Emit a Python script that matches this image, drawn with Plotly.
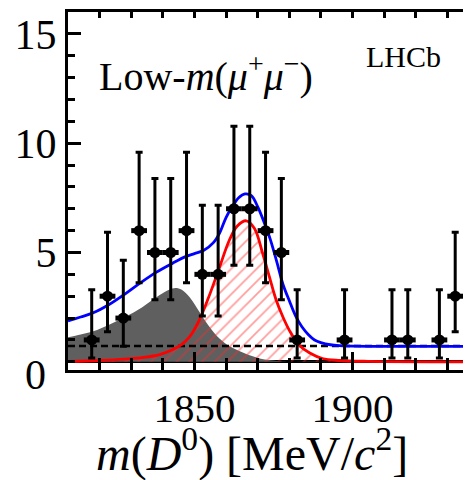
import plotly.graph_objects as go

# ---------------- data ----------------
bin_centers = [1817.5, 1822.5, 1827.5, 1832.5, 1837.5, 1842.5, 1847.5, 1852.5,
               1857.5, 1862.5, 1867.5, 1872.5, 1877.5, 1882.5, 1897.5, 1912.5,
               1917.5, 1927.5, 1932.5, 1937.5]
counts = [1, 3, 2, 6, 5, 5, 6, 4, 4, 7, 7, 6, 5, 1, 1, 1, 1, 1, 3, 2]
err_lo = [0.83, 1.63, 1.29, 2.38, 2.16, 2.16, 2.38, 1.91, 1.91, 2.58, 2.58,
          2.38, 2.16, 0.83, 0.83, 0.83, 0.83, 0.83, 1.63, 1.29]
err_hi = [2.30, 2.92, 2.64, 3.58, 3.38, 3.38, 3.58, 3.16, 3.16, 3.77, 3.77,
          3.58, 3.38, 2.30, 2.30, 2.30, 2.30, 2.30, 2.92, 2.64]
bin_half = [2.5] * len(bin_centers)

total_x = [1810, 1814, 1818, 1823, 1828, 1833, 1838, 1843, 1847, 1850, 1853,
           1856, 1858, 1860, 1862, 1864, 1866, 1868, 1870, 1872, 1874, 1876,
           1878, 1880, 1882, 1884, 1886, 1888, 1890, 1893, 1896, 1900, 1937.5]
total_y = [1.87, 2.05, 2.24, 2.62, 3.10, 3.62, 4.10, 4.50, 4.80, 4.95, 5.10,
           5.45, 5.90, 6.60, 7.10, 7.50, 7.68, 7.60, 7.10, 6.40, 5.60, 4.60,
           3.55, 2.80, 2.10, 1.60, 1.25, 1.00, 0.88, 0.78, 0.74, 0.72, 0.71]

signal_x = [1810, 1820, 1828, 1834, 1839, 1843, 1846, 1848.5, 1851.5, 1854.5,
            1858, 1861, 1863.5, 1866.4, 1869, 1871.5, 1873.7, 1875.8, 1878,
            1880, 1883, 1886.5, 1890.5, 1896, 1905, 1937.5]
signal_y = [0.02, 0.06, 0.12, 0.20, 0.33, 0.55, 0.80, 1.15, 1.90, 2.95, 4.35,
            5.55, 6.20, 6.45, 6.10, 5.00, 3.90, 2.85, 2.05, 1.45, 0.78, 0.40,
            0.15, 0.06, 0.02, 0.00]

peaking_x = [1810, 1814, 1818, 1823, 1828, 1833.5, 1839, 1842, 1844, 1846,
             1848.5, 1851.5, 1854.5, 1858, 1861, 1864, 1867, 1871, 1876, 1882,
             1937.5]
peaking_y = [1.12, 1.25, 1.40, 1.70, 2.05, 2.50, 3.05, 3.30, 3.38, 3.30, 2.95,
             2.30, 1.65, 1.05, 0.72, 0.50, 0.32, 0.14, 0.04, 0.00, 0.00]

comb_x = [1810, 1937.5]
comb_y = [0.72, 0.72]

x_range = [1810, 1937.5]
y_range = [-0.375, 16.0]

FONT = "Liberation Serif, Times New Roman, serif"

fig = go.Figure()

# peaking background (dark grey)
fig.add_trace(go.Scatter(x=peaking_x, y=peaking_y, mode="lines",
                         line=dict(width=0, shape="spline", color="#5f5f5f"),
                         fill="tozeroy", fillcolor="#5f5f5f",
                         showlegend=False, hoverinfo="skip"))
# signal hatched area (transparent background so the grey shows through)
fig.add_trace(go.Scatter(x=signal_x, y=signal_y, mode="lines",
                         line=dict(width=0, shape="spline", color="red"),
                         fill="tozeroy", fillcolor="rgba(255,255,255,0)",
                         fillpattern=dict(shape="/", fgcolor="rgba(255,40,40,0.9)",
                                          size=9, solidity=0.2,
                                          fillmode="overlay"),
                         showlegend=False, hoverinfo="skip"))
# combinatorial (dashed)
fig.add_trace(go.Scatter(x=comb_x, y=comb_y, mode="lines",
                         line=dict(color="black", width=2.5, dash="7px,4px"),
                         showlegend=False, hoverinfo="skip"))
# total fit
fig.add_trace(go.Scatter(x=total_x, y=total_y, mode="lines",
                         line=dict(color="#0000ff", width=2.8, shape="spline"),
                         showlegend=False, hoverinfo="skip"))
# signal line
fig.add_trace(go.Scatter(x=signal_x, y=signal_y, mode="lines",
                         line=dict(color="#ff0000", width=2.8, shape="spline"),
                         showlegend=False, hoverinfo="skip"))
# data
fig.add_trace(go.Scatter(x=bin_centers, y=counts, mode="markers",
                         marker=dict(color="black", size=11, symbol="circle"),
                         error_y=dict(type="data", symmetric=False, array=err_hi,
                                      arrayminus=err_lo, color="black",
                                      thickness=3, width=3.5),
                         error_x=dict(type="data", array=bin_half, color="black",
                                      thickness=5, width=0),
                         cliponaxis=False, showlegend=False, hoverinfo="skip"))
# invisible trace for the top axis
fig.add_trace(go.Scatter(x=x_range, y=[None, None], xaxis="x2", mode="lines",
                         showlegend=False, hoverinfo="skip"))

# The page body has an 8px margin, so the figure is 8px smaller and the
# margins are shifted by 8px to land the plot area where the reference has it.
fig.update_layout(
    width=463, height=472,
    margin=dict(l=60, r=0, t=4, b=109.5),
    paper_bgcolor="white", plot_bgcolor="white",
    font=dict(family=FONT, color="black"),
    xaxis=dict(range=x_range, showgrid=False, zeroline=False,
               showline=True, linecolor="black", linewidth=3,
               ticks="inside", ticklen=18, tickwidth=2.5, tickcolor="black",
               tick0=1800, dtick=50,
               minor=dict(ticks="inside", ticklen=12, tickwidth=2.5,
                          tickcolor="black", dtick=10, tick0=1800),
               tickfont=dict(size=41, family=FONT, color="black")),
    xaxis2=dict(range=x_range, overlaying="x", side="top", anchor="y",
                showgrid=False, zeroline=False, showline=True,
                linecolor="black", linewidth=3, ticks="inside", ticklen=6,
                tickwidth=2.5, tickcolor="black", tick0=1800, dtick=10,
                showticklabels=False),
    yaxis=dict(range=y_range, showgrid=False,
               zeroline=True, zerolinecolor="black", zerolinewidth=3,
               showline=True, linecolor="black", linewidth=3,
               ticks="inside", ticklen=13, tickwidth=2.5, tickcolor="black",
               tickvals=[5, 10, 15], ticktext=["5", "10", "15"],
               minor=dict(ticks="inside", ticklen=7, tickwidth=2.5,
                          tickcolor="black", dtick=1, tick0=0),
               tickfont=dict(size=42, family=FONT, color="black")),
)

# right-hand mirrored major ticks (axis itself lies outside the crop)
for v in [5, 10, 15]:
    fig.add_shape(type="line", xref="paper", yref="y", x0=0.986, x1=1.0,
                  y0=v, y1=v, line=dict(color="black", width=2.5))

fig.add_annotation(text="Low-<i>m</i>(<i>μ</i><sup>+</sup><i>μ</i><sup>−</sup>)",
                   xref="paper", yref="paper", x=0.072, y=0.828,
                   xanchor="left", yanchor="middle", showarrow=False,
                   font=dict(size=40, family=FONT, color="black"))
fig.add_annotation(text="LHCb", xref="paper", yref="paper", x=0.735, y=0.875,
                   xanchor="left", yanchor="middle", showarrow=False,
                   font=dict(size=30, family=FONT, color="black"))
fig.add_annotation(text="0", xref="paper", yref="paper", x=-0.05, y=-0.015,
                   xanchor="right", yanchor="middle", showarrow=False,
                   font=dict(size=42, family=FONT, color="black"))
fig.add_annotation(text="<i>m</i>(<i>D</i><sup>0</sup>) [MeV/<i>c</i><sup>2</sup>]",
                   xref="paper", yref="paper", x=0.457, y=-0.225,
                   xanchor="center", yanchor="middle", showarrow=False,
                   font=dict(size=48, family=FONT, color="black"))

fig.write_html("out.html")
